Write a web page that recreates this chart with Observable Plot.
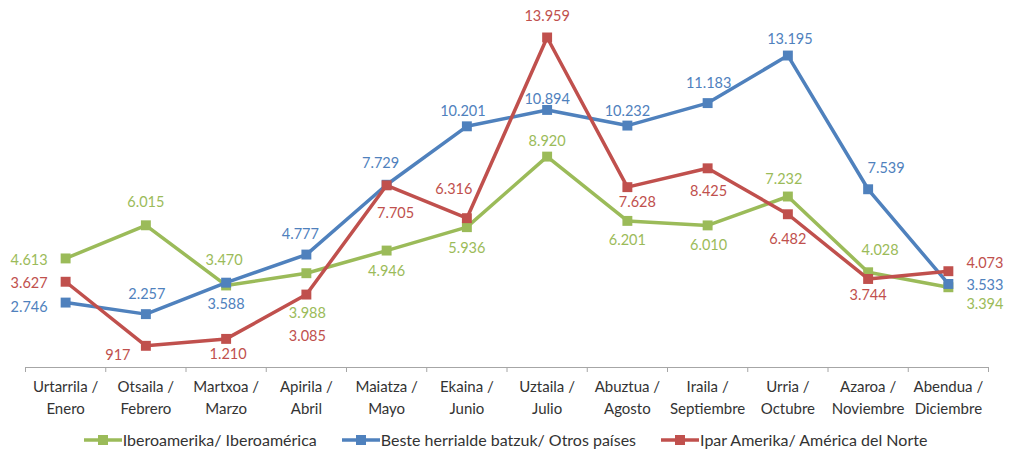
<!DOCTYPE html>
<html><head><meta charset="utf-8">
<script src="https://cdn.jsdelivr.net/npm/d3@7"></script>
<script src="https://cdn.jsdelivr.net/npm/@observablehq/plot@0.6"></script>
<style>
body{margin:0;background:#fff;font-family:Lato,sans-serif;}
#chart svg{display:block;}
#legend{display:flex;justify-content:center;align-items:center;gap:25px;height:29px;font-size:16px;color:#333;}
#legend .item{display:flex;align-items:center;}
#legend svg{margin-right:1px;}
</style></head><body>
<div id="chart"></div>
<div id="legend"></div>
<script>
// ---- data ----
const months = ["Urtarrila /\nEnero","Otsaila /\nFebrero","Martxoa /\nMarzo","Apirila /\nAbril","Maiatza /\nMayo","Ekaina /\nJunio","Uztaila /\nJulio","Abuztua /\nAgosto","Iraila /\nSeptiembre","Urria /\nOctubre","Azaroa /\nNoviembre","Abendua /\nDiciembre"];
const seriesNames = ["Iberoamerika/ Iberoamérica","Beste herrialde batzuk/ Otros países","Ipar Amerika/ América del Norte"];
const iberoamerica = [4613,6015,3470,3988,4946,5936,8920,6201,6010,7232,4028,3394];
const otrosPaises = [2746,2257,3588,4777,7729,10201,10894,10232,11183,13195,7539,3533];
const norteamerica = [3627,917,1210,3085,7705,6316,13959,7628,8425,6482,3744,4073];
const seriesColors = ["#9bbb59","#4f81bd","#c0504d"];

// ---- label placement (layout only) ----
const labelDx = [
  [-18,0,-2,1,0,0,0,0,1,-4,12,18],
  [-18,1,0,-6,-6,-4,0,0,1,2,18,18],
  [-18,-28,2,1,9,-13,0,10,1,0,0,18]
];
const labelDy = [
  [2,-23,-25,40,21,21,-15,19,20,-17,-22,17],
  [5,-20,22,-20,-21,-15,-11,-14,-20,-16,-21,1],
  [2,10,15,42,28,-29,-21,15,23,25,16,-8]
];

const fmt = d3.formatLocale({decimal:",",thousands:".",grouping:[3],currency:["",""]}).format(",d");
const allValues = [iberoamerica, otrosPaises, norteamerica];
const data = [];
allValues.forEach((vals, si) => vals.forEach((v, i) => data.push({series: seriesNames[si], si, month: i + 1, value: v})));

const marks = [
  Plot.ruleY([0], {stroke: "#a6a6a6", strokeWidth: 1}),
  Plot.axisX(d3.range(0.5, 13, 1), {tickSize: 5, stroke: "#a6a6a6", tickFormat: () => ""}),
  Plot.axisX(d3.range(1, 13), {tickSize: 0, tickPadding: 9, tickFormat: i => months[i - 1], lineHeight: 1.45, fill: "#333", fontSize: 15})
];
seriesNames.forEach((name, si) => {
  const d = data.filter(r => r.si === si);
  marks.push(Plot.line(d, {x: "month", y: "value", stroke: seriesColors[si], strokeWidth: 3.5}));
  marks.push(Plot.dot(d, {x: "month", y: "value", symbol: "square", r: 5.6, fill: seriesColors[si], stroke: null}));
});
data.forEach(r => {
  const i = r.month - 1;
  marks.push(Plot.text([r], {
    x: "month", y: "value", text: d => fmt(d.value),
    dx: labelDx[r.si][i], dy: labelDy[r.si][i],
    textAnchor: i === 0 ? "end" : i === 11 ? "start" : "middle",
    fill: seriesColors[r.si], fontSize: 14.5
  }));
});

const chart = Plot.plot({
  width: 1011, height: 425,
  marginLeft: 25, marginRight: 23, marginTop: 36, marginBottom: 58,
  x: {domain: [0.5, 12.5], label: null},
  y: {domain: [0, 14000], axis: null},
  style: {fontFamily: "Lato, sans-serif", fontSize: "15px", background: "white", overflow: "visible"},
  marks
});
document.getElementById("chart").appendChild(chart);

// ---- legend ----
const legend = document.getElementById("legend");
seriesNames.forEach((name, si) => {
  const item = document.createElement("div");
  item.className = "item";
  item.innerHTML = `<svg width="38" height="12"><line x1="0" x2="38" y1="6" y2="6" stroke="${seriesColors[si]}" stroke-width="3.5"/><rect x="14" y="1" width="10" height="10" fill="${seriesColors[si]}"/></svg><span>${name}</span>`;
  legend.appendChild(item);
});
</script>
</body></html>
